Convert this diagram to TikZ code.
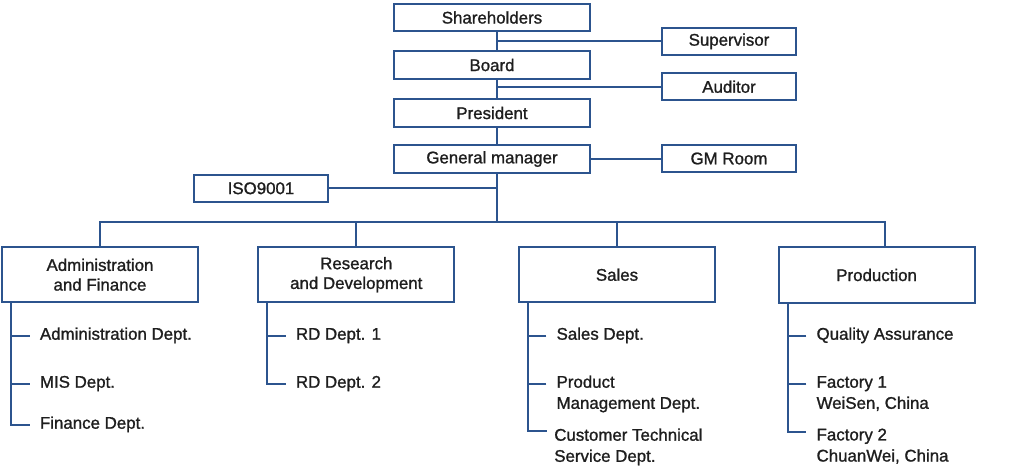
\documentclass[tikz,border=0pt]{standalone}
\usepackage{fontspec}
\setmainfont{Liberation Sans}[FakeBold=1.2]
\usetikzlibrary{positioning}
\definecolor{orgblue}{RGB}{44,84,142}
\definecolor{orgtext}{RGB}{30,30,30}
\newcommand{\deptlines}[1]{\begin{tabular}[t]{@{}l@{}}#1\end{tabular}}

\begin{document}
\begin{tikzpicture}[x=0.025cm,y=-0.025cm,font=\fontsize{12}{14}\selectfont,text=orgtext,
  link/.style={draw=orgblue,line width=1.35pt},
  top box/.style={draw=orgblue,line width=1.35pt,minimum width=4.9cm,minimum height=0.69cm,inner sep=1pt},
  side box/.style={draw=orgblue,line width=1.35pt,minimum width=3.36cm,minimum height=0.67cm,inner sep=1pt},
  dept box/.style={draw=orgblue,line width=1.35pt,minimum width=4.9cm,minimum height=1.38cm,align=center,inner sep=1pt},
  item/.style={anchor=mid west,inner sep=0pt,font=\fontsize{12}{15}\selectfont}]
\useasboundingbox (0,0) rectangle (1024,474);
% top of the chart
\node[top box] (share) at (492,17.5) {Shareholders};
\node[side box] (super) at (729,41.3) {Supervisor};
\node[top box] (board) at (492,65) {Board};
\node[side box] (audit) at (729,86.7) {Auditor};
\node[top box] (pres) at (492,113) {President};
\node[top box] (gm) at (492,159) {General manager};
\node[side box] (gmroom) at (729,158.5) {GM Room};
\node[side box] (iso) at (261,188.3) {ISO9001};
\coordinate (t) at (497,0);
\coordinate (bus) at (0,221.7);
\coordinate (pd) at (885,0);
% divisions
\node[dept box] (admin) at (100,274.7) {Administration\\and Finance};
\node[dept box] (rd) at (356.3,274.7) {Research\\and Development};
\node[dept box] (sales) at (617,274.7) {Sales};
\node[dept box] (prod) at (876.6,275) {Production};
% departments
\node[item] (a1) at (39.7,336) {Administration Dept.};
\node[item] (a2) at (39.7,384) {MIS Dept.};
\node[item] (a3) at (39.7,425) {Finance Dept.};
\node[item] (r1) at (295.7,336) {RD Dept. 1};
\node[item] (r2) at (295.7,384) {RD Dept. 2};
\node[item] (s1) at (556.3,336) {Sales Dept.};
\node[item] (s2) at (556.3,384) {\deptlines{Product\\Management Dept.}};
\node[item] (s3) at (554,437) {\deptlines{Customer Technical\\Service Dept.}};
\node[item] (p1) at (816.3,336) {Quality Assurance};
\node[item] (p2) at (816.3,384) {\deptlines{Factory 1\\WeiSen, China}};
\node[item] (p3) at (816.3,436.7) {\deptlines{Factory 2\\ChuanWei, China}};
% connectors
\draw[link] (share.south -| t) -- (board.north -| t);
\draw[link] (super.west) -- (super.west -| t);
\draw[link] (board.south -| t) -- (pres.north -| t);
\draw[link] (audit.west) -- (audit.west -| t);
\draw[link] (pres.south -| t) -- (gm.north -| t);
\draw[link] (gm.east) -- (gm.east -| gmroom.west);
\draw[link] (gm.south -| t) -- (bus -| t);
\draw[link] (iso.east) -- (iso.east -| t);
\draw[link] (admin.north) |- (bus -| pd) -- (prod.north -| pd);
\draw[link] (rd.north) -- (rd.north |- bus);
\draw[link] (sales.north) -- (sales.north |- bus);
\draw[link] ([xshift=0.25cm]admin.south west) |- ([xshift=-0.25cm]a3.mid west);
\draw[link] ([xshift=-0.25cm]a1.mid west) -- ++(-18,0);
\draw[link] ([xshift=-0.25cm]a2.mid west) -- ++(-18,0);
\draw[link] ([xshift=0.25cm]rd.south west) |- ([xshift=-0.25cm]r2.mid west);
\draw[link] ([xshift=-0.25cm]r1.mid west) -- ++(-18,0);
\draw[link] ([xshift=0.25cm]sales.south west) |- ([xshift=-0.17cm,yshift=0.14cm]s3.mid west);
\draw[link] ([xshift=-0.25cm]s1.mid west) -- ++(-18,0);
\draw[link] ([xshift=-0.25cm]s2.mid west) -- ++(-18,0);
\draw[link] ([xshift=0.25cm]prod.south west) |- ([xshift=-0.25cm,yshift=0.125cm]p3.mid west);
\draw[link] ([xshift=-0.25cm]p1.mid west) -- ++(-18,0);
\draw[link] ([xshift=-0.25cm]p2.mid west) -- ++(-18,0);
\end{tikzpicture}
\end{document}
